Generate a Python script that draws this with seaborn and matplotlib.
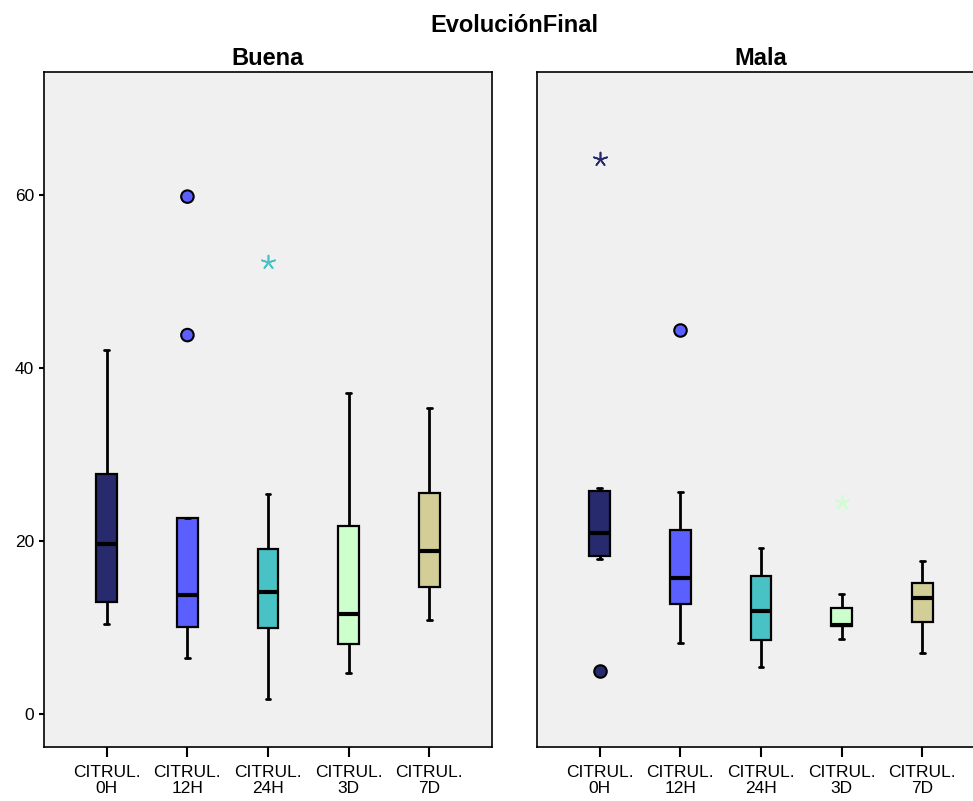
import numpy as np
import pandas as pd
import matplotlib
matplotlib.use("Agg")
import matplotlib.pyplot as plt
import seaborn as sns

categories = ["CITRUL.\n0H", "CITRUL.\n12H", "CITRUL.\n24H", "CITRUL.\n3D", "CITRUL.\n7D"]
colors = ["#272A6C", "#5B5FFE", "#48C2C5", "#CCFFCC", "#D3CE97"]
panels = ["Buena", "Mala"]

# box summaries (whisker low, Q1, median, Q3, whisker high)
buena_low = [10.4, 6.5, 1.8, 4.8, 10.9]
buena_q1 = [13.0, 10.1, 9.9, 8.1, 14.7]
buena_med = [19.7, 13.8, 14.1, 11.6, 18.8]
buena_q3 = [27.7, 22.7, 19.1, 21.7, 25.6]
buena_high = [42.1, 22.7, 25.4, 37.1, 35.4]

mala_low = [17.9, 8.2, 5.4, 8.7, 7.1]
mala_q1 = [18.3, 12.7, 8.6, 10.2, 10.6]
mala_med = [20.9, 15.7, 11.9, 10.3, 13.4]
mala_q3 = [25.8, 21.3, 16.0, 12.3, 15.1]
mala_high = [26.1, 25.7, 19.2, 13.9, 17.7]

# outliers (circles) and extremes (stars)
buena_out_cat = ["CITRUL.\n12H", "CITRUL.\n12H"]
buena_out_val = [59.8, 43.8]
buena_ext_cat = ["CITRUL.\n24H"]
buena_ext_val = [52.3]

mala_out_cat = ["CITRUL.\n0H", "CITRUL.\n12H"]
mala_out_val = [5.0, 44.4]
mala_ext_cat = ["CITRUL.\n0H", "CITRUL.\n3D"]
mala_ext_val = [64.1, 24.5]

stats = {
    "Buena": (buena_low, buena_q1, buena_med, buena_q3, buena_high),
    "Mala": (mala_low, mala_q1, mala_med, mala_q3, mala_high),
}
outs = {
    "Buena": (buena_out_cat, buena_out_val, buena_ext_cat, buena_ext_val),
    "Mala": (mala_out_cat, mala_out_val, mala_ext_cat, mala_ext_val),
}

sns.set_theme(style="ticks")
plt.rcParams["font.family"] = ["Liberation Sans", "DejaVu Sans"]
plt.rcParams["text.color"] = "black"
plt.rcParams["xtick.labelcolor"] = "black"
plt.rcParams["ytick.labelcolor"] = "black"

fig = plt.figure(figsize=(9.73, 8.01), dpi=100)
ax_w = 448 / 973
ax_b = (801 - 747) / 801
ax_h = 675 / 801
axes = [fig.add_axes([44 / 973, ax_b, ax_w, ax_h]),
        fig.add_axes([537 / 973, ax_b, ax_w, ax_h])]

for ax, name in zip(axes, panels):
    rows = []
    for i, cat in enumerate(categories):
        for s in stats[name]:
            rows.append((cat, s[i]))
    df = pd.DataFrame(rows, columns=["cat", "val"])

    sns.boxplot(data=df, x="cat", y="val", hue="cat", order=categories,
                hue_order=categories, palette=colors, saturation=1,
                width=0.26, whis=(0, 100), linecolor="black", linewidth=1.6,
                medianprops={"linewidth": 3}, whiskerprops={"linewidth": 2},
                capprops={"linewidth": 2}, capwidths=0.06,
                legend=False, ax=ax)

    out_cat, out_val, ext_cat, ext_val = outs[name]
    sns.stripplot(x=out_cat, y=out_val, hue=out_cat, order=categories,
                  hue_order=categories, palette=colors, jitter=False,
                  size=9, marker="o", edgecolor="black", linewidth=1.5,
                  legend=False, ax=ax, zorder=5)
    sns.stripplot(x=ext_cat, y=ext_val, hue=ext_cat, order=categories,
                  hue_order=categories, palette=colors, jitter=False,
                  size=10, marker=(5, 2, 0), linewidth=1.2,
                  legend=False, ax=ax, zorder=5)

    ax.set_facecolor("#F0F0F0")
    ax.set_xlim(-0.78, 4.78)
    ax.set_ylim(-3.8, 74.2)
    ax.set_xlabel("")
    ax.set_ylabel("")
    ax.set_title(name, fontsize=17, fontweight="bold", pad=5, color="black")
    for sp in ax.spines.values():
        sp.set_color("black")
        sp.set_linewidth(1.2)
    ax.tick_params(axis="x", length=7, width=1.5, color="black",
                   labelsize=12.5, pad=6)
    for lab in ax.get_xticklabels():
        lab.set_linespacing(1.05)

axes[0].set_yticks([0, 20, 40, 60])
axes[0].tick_params(axis="y", length=3.5, width=1.5, color="black", labelsize=12.5)
axes[1].set_yticks([])

fig.text(514 / 973, 1 - 25 / 801, "EvoluciónFinal", ha="center", va="center",
         fontsize=17, fontweight="bold", color="black")

fig.savefig("out.png", dpi=100)
